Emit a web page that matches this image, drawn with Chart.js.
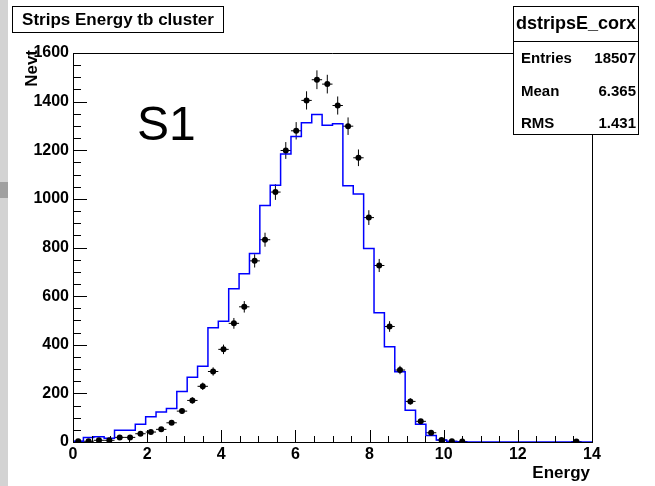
<!DOCTYPE html>
<html>
<head>
<meta charset="utf-8">
<script src="https://cdn.jsdelivr.net/npm/chart.js@4.4.1/dist/chart.umd.min.js"></script>
<style>
  html, body { margin: 0; padding: 0; background: #fff; }
  canvas { display: block; }
</style>
</head>
<body>
<canvas id="energyChart" width="655" height="486"></canvas>
<script>
// histogram binning (50 bins on 0..14)
const xMin = 0;
const binWidth = 0.28;

// blue reference histogram, counts per bin
const histValues = [
  3, 3, 19, 22, 15, 48, 48, 73, 104, 123,
  138, 208, 266, 312, 470, 497, 630, 692, 775, 973,
  1056, 1185, 1257, 1313, 1347, 1303, 1309, 1054, 1020, 796,
  532, 392, 289, 131, 73, 27, 8, 2, 0, 0,
  0, 0, 0, 0, 0, 0, 0, 0, 0, 0
];

// black data points, counts per bin (null = empty bin, not drawn)
const dataValues = [
  3, 3, 7, 7, 19, 19, 34, 41, 52, 79,
  127, 171, 229, 290, 381, 488, 556, 745, 832, 1028,
  1199, 1280, 1405, 1490, 1472, 1384, 1299, 1169, 923, 726,
  475, 296, 167, 85, 38, 8, 3, 2, null, null,
  null, null, null, null, null, null, null, null, 2, null
];

const xTicks = [0, 2, 4, 6, 8, 10, 12, 14];
const yTicks = [0, 200, 400, 600, 800, 1000, 1200, 1400, 1600];

const titleText = "Strips Energy tb cluster";
const statsName = "dstripsE_corx";
const statsLabels = ["Entries", "Mean", "RMS"];
const statsValues = ["18507", "6.365", "1.431"];
const xTitle = "Energy";
const yTitle = "Nevt";
const padLabel = "S1";

const FONT = "'Liberation Sans', Arial, Helvetica, sans-serif";

const histPoints = histValues.map((v, i) => ({ x: xMin + i * binWidth, y: v }));
histPoints.push({ x: xMin + histValues.length * binWidth, y: histValues[histValues.length - 1] });

const dataPoints = dataValues.map((v, i) => ({ x: xMin + (i + 0.5) * binWidth, y: v }));

// ROOT-like decorations: inward ticks, frame, error bars, boxes
const rootStyle = {
  id: "rootStyle",
  beforeDraw(chart) {
    const ctx = chart.ctx;
    ctx.save();
    ctx.fillStyle = "#ffffff";
    ctx.fillRect(0, 0, chart.width, chart.height);
    ctx.fillStyle = "#d3d3d3";
    ctx.fillRect(0, 0, 8, chart.height);
    ctx.fillStyle = "#a0a0a0";
    ctx.fillRect(0, 182, 8, 16);
    ctx.restore();
  },
  beforeDatasetsDraw(chart) {
    const ctx = chart.ctx;
    const xs = chart.scales.x, ys = chart.scales.y;
    ctx.save();
    ctx.strokeStyle = "#000";
    ctx.lineWidth = 1;
    dataPoints.forEach((p) => {
      if (p.y === null) return;
      const err = Math.sqrt(p.y);
      const px = xs.getPixelForValue(p.x);
      const py = ys.getPixelForValue(p.y);
      ctx.beginPath();
      ctx.moveTo(px, ys.getPixelForValue(p.y - err));
      ctx.lineTo(px, ys.getPixelForValue(p.y + err));
      ctx.moveTo(xs.getPixelForValue(p.x - binWidth / 2), py);
      ctx.lineTo(xs.getPixelForValue(p.x + binWidth / 2), py);
      ctx.stroke();
    });
    ctx.restore();
  },
  afterDraw(chart) {
    const ctx = chart.ctx;
    const a = chart.chartArea;
    const xs = chart.scales.x, ys = chart.scales.y;
    ctx.save();
    ctx.strokeStyle = "#000";
    ctx.lineWidth = 1;

    // frame top and right
    ctx.beginPath();
    ctx.moveTo(a.left, a.top + 0.5);
    ctx.lineTo(a.right + 0.5, a.top + 0.5);
    ctx.lineTo(a.right + 0.5, a.bottom);
    ctx.stroke();

    // y ticks (major 200, minor 50), pointing inward
    ctx.beginPath();
    for (let v = 0; v <= 1600; v += 50) {
      const py = Math.round(ys.getPixelForValue(v)) + 0.5;
      const len = v % 200 === 0 ? 14 : 8;
      ctx.moveTo(a.left, py);
      ctx.lineTo(a.left + len, py);
    }
    // x ticks (major 2, minor 0.5)
    for (let i = 0; i <= 28; i++) {
      const v = i * 0.5;
      const px = Math.round(xs.getPixelForValue(v)) + 0.5;
      const len = i % 4 === 0 ? 12 : 6;
      ctx.moveTo(px, a.bottom);
      ctx.lineTo(px, a.bottom - len);
    }
    ctx.stroke();

    // title box
    ctx.fillStyle = "#fff";
    ctx.fillRect(12.5, 6.5, 211, 26);
    ctx.strokeRect(12.5, 6.5, 211, 26);
    ctx.fillStyle = "#000";
    ctx.font = "bold 17px " + FONT;
    ctx.textAlign = "center";
    ctx.textBaseline = "middle";
    ctx.fillText(titleText, 118, 20);

    // stats box
    ctx.fillStyle = "#fff";
    ctx.fillRect(513.5, 6.5, 125, 128);
    ctx.strokeRect(513.5, 6.5, 125, 128);
    ctx.beginPath();
    ctx.moveTo(513.5, 41.5);
    ctx.lineTo(638.5, 41.5);
    ctx.stroke();
    ctx.fillStyle = "#000";
    ctx.font = "bold 18px " + FONT;
    ctx.textAlign = "center";
    ctx.fillText(statsName, 576, 24);
    ctx.font = "bold 15px " + FONT;
    const rowY = [59, 92, 124];
    statsLabels.forEach((lab, i) => {
      ctx.textAlign = "left";
      ctx.fillText(lab, 521, rowY[i]);
      ctx.textAlign = "right";
      ctx.fillText(statsValues[i], 636, rowY[i]);
    });

    // axis titles
    ctx.font = "bold 17px " + FONT;
    ctx.textAlign = "right";
    ctx.textBaseline = "middle";
    ctx.fillText(xTitle, 590, 473);
    ctx.save();
    ctx.translate(32, 50);
    ctx.rotate(-Math.PI / 2);
    ctx.textAlign = "right";
    ctx.fillText(yTitle, 0, 0);
    ctx.restore();

    // pad label
    ctx.font = "48px " + FONT;
    ctx.textAlign = "left";
    ctx.textBaseline = "alphabetic";
    ctx.fillText(padLabel, 137, 140);
    ctx.restore();
  }
};

new Chart(document.getElementById("energyChart").getContext("2d"), {
  data: {
    datasets: [
      {
        type: "scatter",
        label: "data",
        data: dataPoints,
        pointRadius: 3,
        pointHoverRadius: 3,
        pointBackgroundColor: "#000",
        pointBorderWidth: 0,
        showLine: false,
      },
      {
        type: "line",
        label: "hist",
        data: histPoints,
        stepped: "after",
        borderColor: "#0000ff",
        borderWidth: 1.5,
        pointRadius: 0,
        fill: false,
      },
    ],
  },
  options: {
    responsive: false,
    animation: false,
    events: [],
    layout: { padding: { left: 0, top: 53, right: 63, bottom: 0 } },
    plugins: {
      legend: { display: false },
      tooltip: { enabled: false },
      title: { display: false },
    },
    scales: {
      x: {
        type: "linear",
        min: 0,
        max: 14,
        afterFit: (s) => { s.height = 44; },
        afterBuildTicks: (s) => { s.ticks = xTicks.map((v) => ({ value: v })); },
        grid: { display: false, drawTicks: false },
        border: { display: true, color: "#000", width: 1 },
        ticks: {
          color: "#000",
          padding: 3,
          maxRotation: 0,
          callback: (v) => String(v),
          font: { family: FONT, size: 16, weight: "bold" },
        },
      },
      y: {
        type: "linear",
        min: 0,
        max: 1600,
        afterFit: (s) => { s.width = 73; },
        afterBuildTicks: (s) => { s.ticks = yTicks.map((v) => ({ value: v })); },
        grid: { display: false, drawTicks: false },
        border: { display: true, color: "#000", width: 1 },
        ticks: {
          color: "#000",
          padding: 4,
          callback: (v) => String(v),
          font: { family: FONT, size: 16, weight: "bold" },
        },
      },
    },
  },
  plugins: [rootStyle],
});
</script>
</body>
</html>
